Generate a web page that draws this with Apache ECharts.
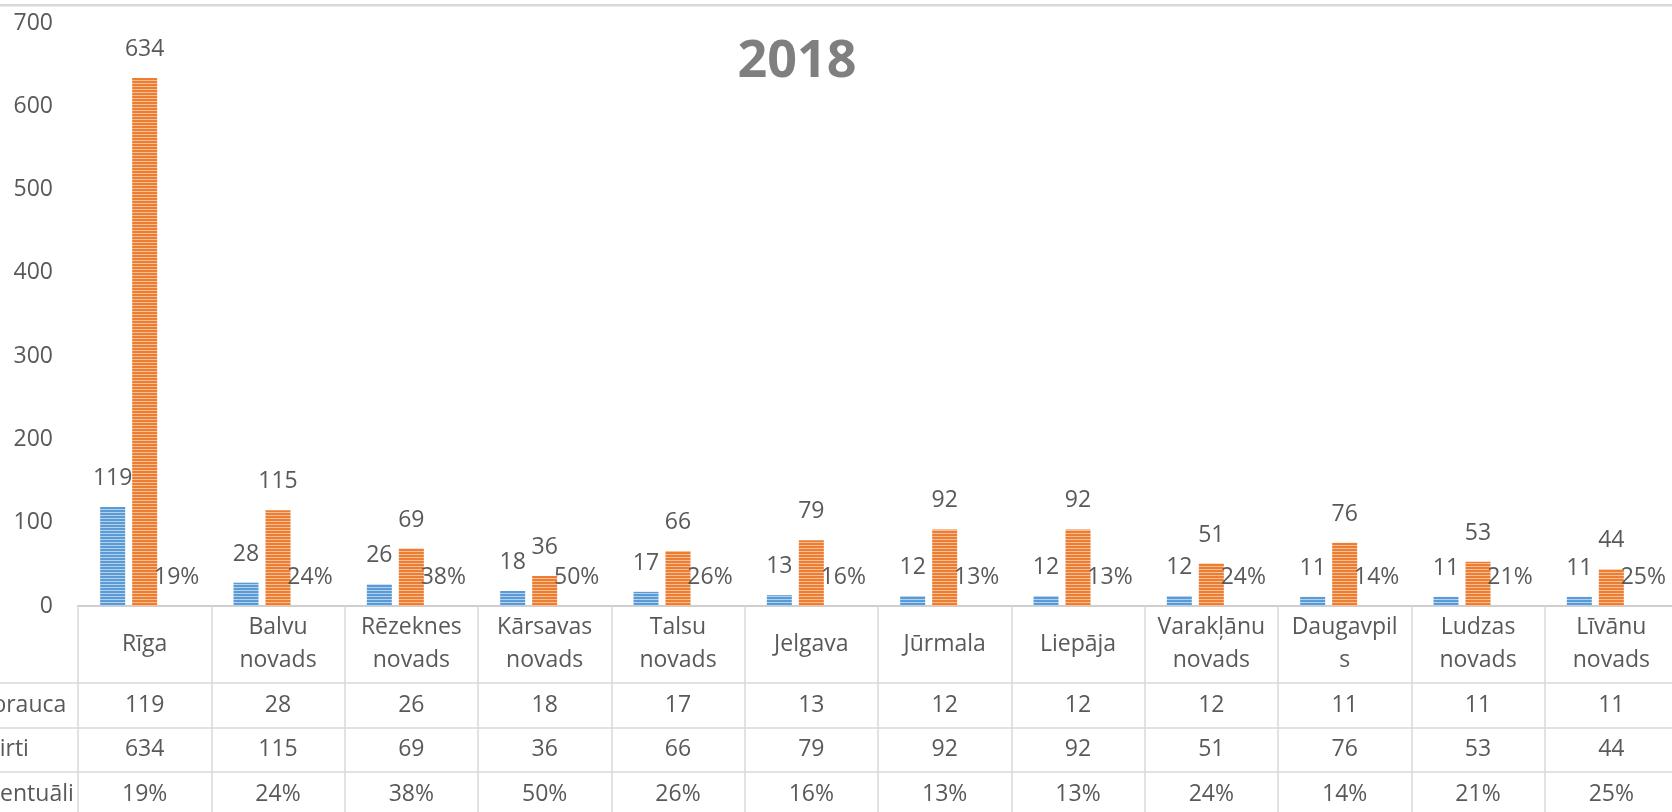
<!DOCTYPE html>
<html>
<head>
<meta charset="utf-8">
<title>2018</title>
<script src="https://cdn.jsdelivr.net/npm/echarts@6/dist/echarts.min.js"></script>
<style>
  html, body { margin: 0; padding: 0; background: #fff; overflow: hidden; }
  #main { width: 1672px; height: 812px; }
</style>
</head>
<body>
<div id="main"></div>
<script>
// data
var categories = ['Rīga', 'Balvu\nnovads', 'Rēzeknes\nnovads', 'Kārsavas\nnovads', 'Talsu\nnovads', 'Jelgava',
                  'Jūrmala', 'Liepāja', 'Varakļānu\nnovads', 'Daugavpil\ns', 'Ludzas\nnovads', 'Līvānu\nnovads'];
var aizbrauca = [119, 28, 26, 18, 17, 13, 12, 12, 12, 11, 11, 11];
var skirti    = [634, 115, 69, 36, 66, 79, 92, 92, 51, 76, 53, 44];
var procenti  = [19, 24, 38, 50, 26, 16, 13, 13, 24, 14, 21, 25];
var rowNames  = ['Aizbrauca', 'Šķirti', 'Procentuāli'];
var yMin = 0, yMax = 700, yStep = 100;

var FONT = '"Open Sans", "Noto Sans", sans-serif';
var TXT = '#595959';
var LINE = '#d9d9d9';

// excel-like striped fill
function stripes(c1, c2) {
    var cv = document.createElement('canvas');
    cv.width = 4; cv.height = 3;
    var ctx = cv.getContext('2d');
    ctx.fillStyle = c1; ctx.fillRect(0, 0, 4, 3);
    ctx.fillStyle = c2; ctx.fillRect(0, 2, 4, 1);
    return cv;
}

function rowText(r, c) {
    if (r === 0) return String(aizbrauca[c]);
    if (r === 1) return String(skirti[c]);
    return procenti[c] + '%';
}

var tableCells = [];
for (var r = 0; r < rowNames.length; r++) {
    for (var c = 0; c < categories.length; c++) tableCells.push([c, r]);
}

var barLabel = {
    show: true,
    position: 'top',
    distance: 17,
    fontSize: 23,
    fontFamily: FONT,
    color: TXT
};

var myChart = echarts.init(document.getElementById('main'));

var option = {
    backgroundColor: '#fff',
    animation: false,
    title: {
        text: '2018',
        left: 797,
        top: 62,
        padding: 0,
        textAlign: 'center',
        textVerticalAlign: 'middle',
        textStyle: { fontSize: 52, fontWeight: 'bold', fontFamily: FONT, color: '#7f7f7f' }
    },
    graphic: [{
        type: 'rect',
        left: 0,
        top: 4,
        shape: { width: 1672, height: 2.5 },
        style: { fill: LINE },
        silent: true
    }],
    grid: [
        { left: 78, right: -6, top: 23, bottom: 206, outerBoundsMode: 'none', containLabel: false },
        { left: 78, right: -6, top: 683, bottom: -4.5, outerBoundsMode: 'none', containLabel: false }
    ],
    xAxis: [
        {
            type: 'category',
            gridIndex: 0,
            data: categories,
            axisLine: { lineStyle: { color: '#cfcfcf', width: 2 } },
            axisTick: { show: true, interval: 0, length: 77, lineStyle: { color: LINE, width: 1.5 } },
            axisLabel: {
                interval: 0,
                margin: 38,
                verticalAlign: 'middle',
                lineHeight: 33,
                fontSize: 23,
                fontFamily: FONT,
                color: TXT
            }
        },
        {
            type: 'category',
            gridIndex: 1,
            data: categories,
            axisLine: { show: false },
            axisTick: { show: false },
            axisLabel: { show: false },
            splitLine: { show: true, interval: 0, lineStyle: { color: LINE, width: 1.5 } }
        }
    ],
    yAxis: [
        {
            type: 'value',
            gridIndex: 0,
            min: yMin,
            max: yMax,
            interval: yStep,
            axisLine: { show: false },
            axisTick: { show: false },
            splitLine: { show: false },
            axisLabel: { margin: 25, fontSize: 23, fontFamily: FONT, color: TXT }
        },
        {
            type: 'category',
            gridIndex: 1,
            inverse: true,
            data: rowNames,
            axisLine: { show: false },
            axisTick: { show: true, interval: 0, length: 82, lineStyle: { color: LINE, width: 1.5 } },
            splitLine: { show: true, interval: 0, lineStyle: { color: LINE, width: 1.5 } },
            axisLabel: {
                interval: 0,
                align: 'left',
                margin: 126,
                fontSize: 23,
                fontFamily: FONT,
                color: TXT,
                formatter: function (v, i) { return '{r' + i + '|' + v + '}'; },
                rich: {
                    r0: { fontSize: 23, fontFamily: FONT, color: TXT, padding: [0, 0, 0, 9] },
                    r1: { fontSize: 23, fontFamily: FONT, color: TXT, padding: [0, 0, 0, 23] },
                    r2: { fontSize: 23, fontFamily: FONT, color: TXT }
                }
            }
        }
    ],
    series: [
        {
            name: rowNames[0],
            type: 'bar',
            barWidth: 25,
            barGap: '28%',
            itemStyle: { color: { image: stripes('#5b9bd5', '#b4d1ee'), repeat: 'repeat' } },
            label: barLabel,
            data: aizbrauca
        },
        {
            name: rowNames[1],
            type: 'bar',
            barWidth: 25,
            barGap: '28%',
            itemStyle: { color: { image: stripes('#ed7d31', '#f7bf98'), repeat: 'repeat' } },
            label: barLabel,
            data: skirti
        },
        {
            name: rowNames[2],
            type: 'bar',
            barWidth: 25,
            barGap: '28%',
            itemStyle: { color: 'rgba(0,0,0,0)' },
            label: Object.assign({}, barLabel, {
                formatter: function (p) { return procenti[p.dataIndex] + '%'; }
            }),
            data: procenti.map(function (v) { return v / 100; })
        },
        {
            type: 'custom',
            xAxisIndex: 1,
            yAxisIndex: 1,
            silent: true,
            data: tableCells,
            renderItem: function (params, api) {
                var c = api.value(0), r = api.value(1);
                var p = api.coord([c, r]);
                return {
                    type: 'text',
                    x: p[0],
                    y: p[1],
                    style: {
                        text: rowText(r, c),
                        fontSize: 23,
                        fontFamily: FONT,
                        fill: TXT,
                        align: 'center',
                        verticalAlign: 'middle'
                    }
                };
            }
        }
    ]
};

myChart.setOption(option);
</script>
</body>
</html>
